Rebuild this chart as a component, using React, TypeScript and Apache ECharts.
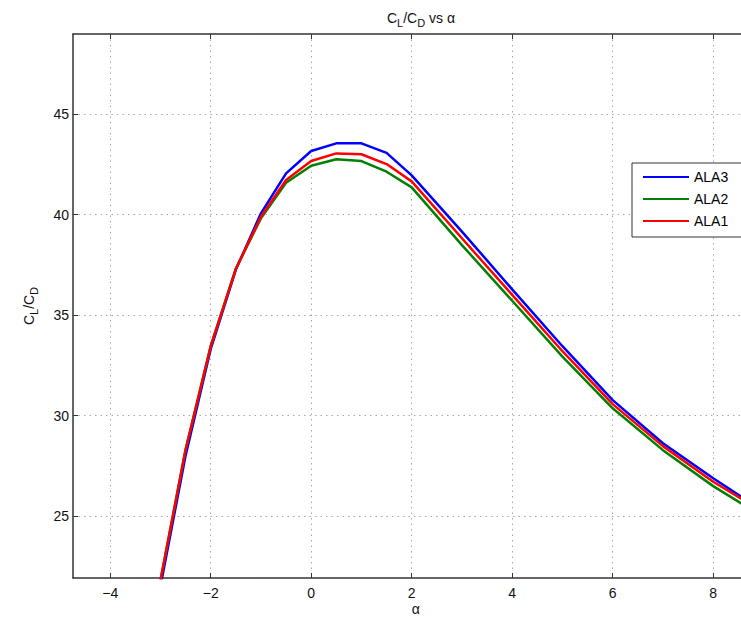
import React, { useEffect, useRef } from "react";
import * as echarts from "echarts";

const alpha = [-3, -2.5, -2, -1.5, -1, -0.5, 0, 0.5, 1, 1.5, 2, 3, 4, 5, 6, 7, 8, 9];
const ala3 = [21.5, 28.0, 33.3, 37.25, 40.06, 42.05, 43.16, 43.54, 43.54, 43.07, 41.95, 39.15, 36.28, 33.45, 30.77, 28.62, 26.88, 25.25];
const ala2 = [21.8, 28.3, 33.45, 37.3, 39.81, 41.58, 42.43, 42.75, 42.66, 42.13, 41.35, 38.48, 35.71, 32.93, 30.36, 28.28, 26.49, 24.95];
const ala1 = [21.8, 28.3, 33.45, 37.3, 39.89, 41.72, 42.66, 43.04, 43.0, 42.51, 41.65, 38.82, 36.0, 33.2, 30.57, 28.48, 26.71, 25.2];

const xTicks = [-4, -2, 0, 2, 4, 6, 8];
const yTicks = [25, 30, 35, 40, 45];

const FONT = "'Liberation Sans', Arial, Helvetica, sans-serif";

export default function App() {
  const ref = useRef<HTMLDivElement>(null);
  useEffect(() => {
    if (!ref.current) return;
    const chart = echarts.init(ref.current, undefined, { renderer: "svg" });
    const xMin = -4.74;
    const xMax = 8.9;
    const gridStyle = { color: "#a8a8a8", width: 1, type: [1.5, 4] as any };
    const mk = (vals: number[]) => vals.map((v, i) => [alpha[i], v]);
    chart.setOption({
      animation: false,
      backgroundColor: "#fff",
      textStyle: { fontFamily: FONT },
      title: {
        text: "{n|C}{s|L}{n|/C}{s|D}{n| vs α}",
        left: 416,
        top: 2,
        textAlign: "center",
        textStyle: {
          fontWeight: "normal",
          rich: {
            n: { fontSize: 14, color: "#111", fontFamily: FONT, fontWeight: "normal" },
            s: { fontSize: 11, color: "#111", fontFamily: FONT, fontWeight: "normal", padding: [10, 0, 0, 0] },
          },
        },
      },
      legend: {
        left: 632,
        top: 163,
        orient: "vertical",
        itemWidth: 46,
        itemHeight: 14,
        itemGap: 8,
        padding: [7, 16, 9, 10],
        borderColor: "#333",
        borderWidth: 1,
        backgroundColor: "#fff",
        itemStyle: { opacity: 0 },
        textStyle: { fontSize: 14, color: "#000", fontFamily: FONT },
        data: ["ALA3", "ALA2", "ALA1"],
      },
      grid: {
        left: 73,
        top: 34,
        width: (xMax - xMin) * 50.25,
        height: 544,
        outerBoundsMode: "none",
        containLabel: false,
      },
      xAxis: [
        {
          type: "value",
          min: xMin,
          max: xMax,
          name: "α",
          nameLocation: "middle",
          nameGap: 24,
          nameMoveOverlap: false,
          nameTextStyle: { fontSize: 14, color: "#111", fontFamily: FONT, lineHeight: 14 },
          axisLine: { show: true, onZero: false, lineStyle: { color: "#333", width: 1.5 } },
          axisTick: { show: true, inside: true, length: 5, lineStyle: { color: "#333" }, customValues: xTicks },
          axisLabel: {
            show: true,
            margin: 8,
            fontSize: 14,
            color: "#111",
            fontFamily: FONT,
            customValues: xTicks,
            formatter: (v: number) => String(v).replace("-", "\u2212"),
          },
          splitLine: { show: true, lineStyle: gridStyle },
        },
        {
          type: "value",
          position: "top",
          min: xMin,
          max: xMax,
          axisLine: { show: true, onZero: false, lineStyle: { color: "#333", width: 1.5 } },
          axisTick: { show: true, inside: true, length: 5, lineStyle: { color: "#333" }, customValues: xTicks },
          axisLabel: { show: false },
          splitLine: { show: false },
        },
      ],
      yAxis: {
        type: "value",
        min: 21.92,
        max: 48.98,
        name: "{n|C}{s|L}{n|/C}{s|D}",
        nameLocation: "middle",
        nameRotate: 90,
        nameGap: 34,
        nameTextStyle: {
          rich: {
            n: { fontSize: 14, color: "#111", fontFamily: FONT },
            s: { fontSize: 11, color: "#111", fontFamily: FONT, padding: [9, 0, 0, 0] },
          },
        },
        axisLine: { show: true, onZero: false, lineStyle: { color: "#333", width: 1.5 } },
        axisTick: { show: true, inside: true, length: 5, lineStyle: { color: "#333" }, customValues: yTicks },
        axisLabel: { show: true, margin: 4, fontSize: 14, color: "#111", fontFamily: FONT, customValues: yTicks },
        splitLine: { show: true, lineStyle: gridStyle },
      },
      series: [
        { name: "ALA3", type: "line", data: mk(ala3), symbol: "none", lineStyle: { color: "#0000ff", width: 2.5 }, itemStyle: { color: "#0000ff" } },
        { name: "ALA2", type: "line", data: mk(ala2), symbol: "none", lineStyle: { color: "#008000", width: 2.5 }, itemStyle: { color: "#008000" } },
        { name: "ALA1", type: "line", data: mk(ala1), symbol: "none", lineStyle: { color: "#ff0000", width: 2.5 }, itemStyle: { color: "#ff0000" } },
      ],
    });
    return () => chart.dispose();
  }, []);
  return <div ref={ref} style={{ position: "fixed", left: 0, top: 0, width: 741, height: 618 }} />;
}
